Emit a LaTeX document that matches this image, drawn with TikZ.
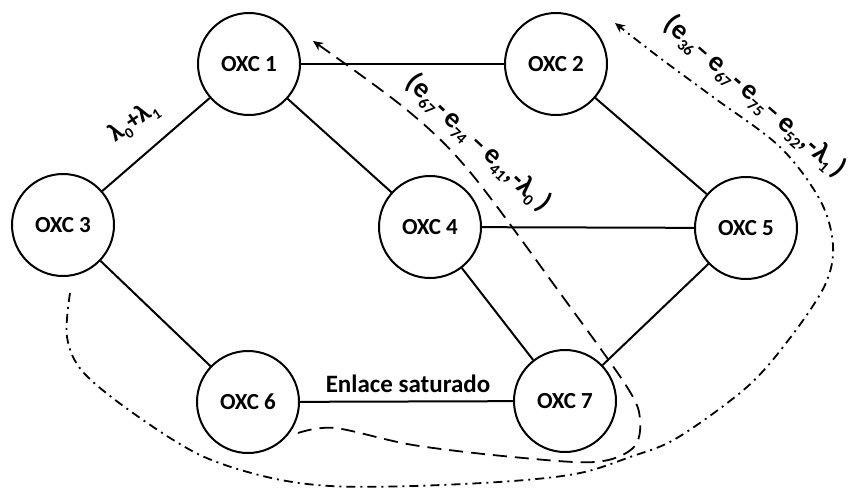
\documentclass[tikz,border=0pt]{standalone}
\usepackage{fontspec}
\setmainfont{Carlito}
\usetikzlibrary{arrows.meta}
\newcommand{\sbs}[1]{\raisebox{-0.22em}{\fontsize{16}{16}\selectfont #1}}
\newcommand{\sbb}[1]{\raisebox{-0.2em}{\fontsize{15}{15}\selectfont\bfseries #1}}
\begin{document}
\begin{tikzpicture}[x=1pt,y=-1pt,
  oxc/.style={circle,draw,line width=2pt,minimum size=102pt,inner sep=0pt,font=\fontsize{23}{26}\selectfont\bfseries},
  link/.style={line width=2pt},
  lamzero/.style={line width=1.8pt,dash pattern=on 14pt off 8pt,-{Stealth[length=10pt,width=9pt]}},
  lamone/.style={line width=1.8pt,dash pattern=on 9pt off 5pt on 2pt off 5pt,-{Stealth[length=10pt,width=9pt]}},
  plabel/.style={font=\fontsize{28}{30}\selectfont\bfseries,inner sep=0pt}]
\path[use as bounding box,fill=white] (0,0) rectangle (860,488);
\node[oxc] (n1) at (249,64) {OXC 1};
\node[oxc] (n2) at (556,64) {OXC 2};
\node[oxc] (n3) at (63,225) {OXC 3};
\node[oxc] (n4) at (430,227) {OXC 4};
\node[oxc] (n5) at (746,228) {OXC 5};
\node[oxc] (n6) at (248,402) {OXC 6};
\node[oxc] (n7) at (565,401) {OXC 7};
\draw[link] (n1) -- (n2);
\draw[link] (n1) -- (n3);
\draw[link] (n1) -- (n4);
\draw[link] (n2) -- (n5);
\draw[link] (n3) -- (n6);
\draw[link] (n4) -- (n5);
\draw[link] (n4) -- (n7);
\draw[link] (n6) -- (n7);
\draw[link] (n7) -- (n5);
\node[font=\fontsize{25}{28}\selectfont\bfseries,inner sep=0pt] (sat) at (408,384) {Enlace saturado};
\node[font=\fontsize{26}{28}\selectfont\bfseries,inner sep=0pt,rotate=34] (lam) at (134,122) {λ\sbb{0}+λ\sbb{1}};
\coordinate (azs) at (298,433);
\coordinate (aze) at (313,41);
\draw[lamzero] plot[smooth,tension=0.55] coordinates {(azs) (335,428) (413,445) (513,457) (595,462) (633,448) (640,420) (627,387) (560,293) (470,172) (407,110) (aze)};
\coordinate (aos) at (70,293);
\coordinate (aoe) at (615,23);
\draw[lamone] plot[smooth,tension=0.55] coordinates {(aos) (67,337) (83,372) (133,413) (200,455) (267,477) (330,486) (413,486) (513,481) (580,473) (630,457) (677,438) (747,387) (790,338) (825,285) (833,245) (820,200) (780,147) (713,97) (660,58) (aoe)};
\node[plabel,rotate=-43] (l0) at (478,143) {(e\sbs{67}-\,e\sbs{74}\,–\,e\sbs{41},-λ\sbs{0}\,)};
\node[plabel,rotate=-41] (l1) at (755,97) {(e\sbs{36}–\,e\sbs{67}-\,e\sbs{75}–\,e\sbs{52},-λ\sbs{1}\,)};
\end{tikzpicture}
\end{document}
